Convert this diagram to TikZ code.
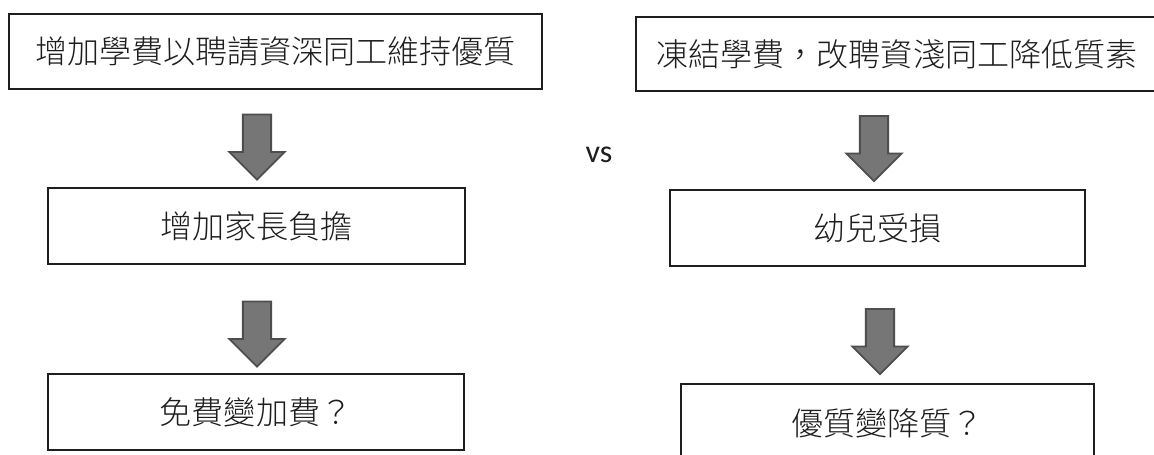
\documentclass[tikz,border=0pt]{standalone}
\usepackage{fontspec}
\setmainfont{Noto Sans CJK TC Light}
\newfontfamily\vsfont{Carlito}
\usepackage{xcolor}
\usepackage{tikz}
\usetikzlibrary{shapes.arrows}
\definecolor{arrowgray}{RGB}{118,118,118}
\definecolor{arrowedge}{RGB}{78,78,78}
\definecolor{inkgray}{RGB}{30,30,30}

\begin{document}
\begin{tikzpicture}[x=0.025cm, y=-0.025cm,
    stepbox/.style={draw=inkgray, line width=0.9pt, inner sep=0pt, text=inkgray, font=\fontsize{22.8}{26}\selectfont},
    downarrow/.style={single arrow, shape border rotate=270, draw=arrowedge, line width=1.3pt, fill=arrowgray, inner sep=0.33cm, single arrow head extend=0.34cm, minimum height=1.63cm, minimum width=1.35cm}]
  \useasboundingbox (0,0) rectangle (1154,454);
  \fill[white] (0,0) rectangle (1154,454);

  \node[stepbox, minimum width=13.325cm, minimum height=1.875cm] (raiseFee) at (275.5, 51.5) {增加學費以聘請資深同工維持優質};
  \node[stepbox, minimum width=10.425cm, minimum height=1.9cm] (parentLoad) at (256.5, 226) {增加家長負擔};
  \node[stepbox, minimum width=10.4cm, minimum height=1.9cm] (freeToPaid) at (256, 412) {免費變加費？};

  \node[stepbox, minimum width=13.05cm, minimum height=1.85cm] (freezeFee) at (897, 54) {凍結學費，改聘資淺同工降低質素};
  \node[stepbox, minimum width=10.375cm, minimum height=1.9cm] (childHurt) at (877.5, 228) {幼兒受損};
  \node[stepbox, minimum width=10.325cm, minimum height=1.95cm] (qualityDrop) at (887.5, 423) {優質變降質？};

  \node[downarrow] (arrowL1) at (257, 140) {};
  \node[downarrow] (arrowL2) at (257, 327) {};
  \node[downarrow] (arrowR1) at (874, 141.5) {};
  \node[downarrow] (arrowR2) at (880, 334.5) {};

  \node[text=inkgray, font=\vsfont\fontsize{22.8}{26}\selectfont] (versus) at (599, 155) {vs};
\end{tikzpicture}
\end{document}
